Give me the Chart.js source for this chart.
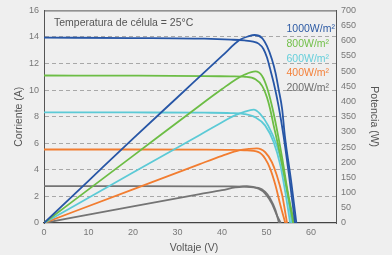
<!DOCTYPE html>
<html>
<head>
<meta charset="utf-8">
<script src="https://cdn.jsdelivr.net/npm/chart.js@4.4.1/dist/chart.umd.min.js"></script>
<style>
  html, body { margin: 0; padding: 0; background: #efefef; }
  #wrap { width: 392px; height: 255px; position: relative; }
</style>
</head>
<body>
<div id="wrap"><canvas id="chart"></canvas></div>
<script>
// legend text, one per irradiance level
const irradiance = ['1000W/m²', '800W/m²', '600W/m²', '400W/m²', '200W/m²'];

// I-V curves: voltage (V) -> current (A)
const ivVolts1000 = [0, 20, 36, 42, 45, 47, 48.2, 49.3, 50.1, 50.8, 51.6, 52.7, 53.8, 55, 56.4];
const ivAmps1000 = [13.95, 13.92, 13.87, 13.8, 13.74, 13.65, 13.5, 13.1, 12.45, 11.6, 10.55, 8.8, 6.6, 3.7, 0];
const ivVolts800 = [0, 20, 36, 42, 45.2, 47.5, 49, 50.1, 50.8, 51.6, 52.5, 53.5, 54.7, 56];
const ivAmps800 = [11.1, 11.09, 11.06, 11.03, 11.0, 10.82, 10.32, 9.44, 8.58, 7.33, 6.0, 4.4, 2.3, 0];
const ivVolts600 = [0, 20, 36, 42, 45, 47.5, 49.7, 51.6, 53.1, 54.2, 55.3];
const ivAmps600 = [8.33, 8.32, 8.3, 8.27, 8.2, 7.95, 7.33, 6.08, 4.34, 2.34, 0];
const ivVolts400 = [0, 20, 36, 42, 45, 48.2, 49.7, 50.8, 52, 53.1, 54.2];
const ivAmps400 = [5.53, 5.53, 5.52, 5.5, 5.47, 5.33, 4.84, 4.09, 2.84, 1.35, 0];
const ivVolts200 = [0, 20, 36, 42, 45, 48.2, 49.7, 50.8, 52, 52.8];
const ivAmps200 = [2.77, 2.77, 2.76, 2.75, 2.73, 2.64, 2.34, 1.85, 0.97, 0];

// P-V curves: voltage (V) -> power (W)
const pvVolts1000 = [0, 10, 20, 30, 40, 44, 46, 47.3, 49, 50.1, 51.2, 52, 52.7, 53.5, 54.1, 55.5, 56.7];
const pvWatts1000 = [0, 139, 278, 414, 550, 603, 615, 619, 609, 582, 539, 495, 441, 375, 288, 140, 0];
const pvVolts800 = [0, 20, 35, 40, 43, 45, 47.5, 49, 50.1, 51.2, 52.3, 53.5, 54.8, 56.2];
const pvWatts800 = [0, 221, 387, 441, 472, 488, 499, 484, 446, 386, 310, 215, 100, 0];
const pvVolts600 = [0, 20, 35, 40, 43, 45, 47.1, 48.5, 50.4, 52.3, 53.5, 54.6, 55.7];
const pvWatts600 = [0, 166, 290, 332, 355, 366, 373, 360, 320, 255, 190, 102, 0];
const pvVolts400 = [0, 20, 35, 40, 44, 46, 47.8, 49.7, 51.2, 52.3, 53.5, 54.6];
const pvWatts400 = [0, 111, 194, 221, 240, 244, 246, 233, 200, 157, 92, 0];
const pvVolts200 = [0, 20, 35, 40, 43, 45.6, 48.2, 49.7, 51.2, 52.3, 53.2];
const pvWatts200 = [0, 55, 95, 108, 117, 121, 113, 97, 64, 26, 0];

// tick labels
const voltTicks = [0, 10, 20, 30, 40, 50, 60];
const ampTicks = [0, 2, 4, 6, 8, 10, 12, 14, 16];
const wattTicks = [0, 50, 100, 150, 200, 250, 300, 350, 400, 450, 500, 550, 600, 650, 700];

const note = 'Temperatura de célula = 25°C';
const xTitle = 'Voltaje (V)';
const yTitle = 'Corriente (A)';
const y2Title = 'Potencia (W)';

// styles
const colors = ['#2756a6', '#6cbd45', '#5ccad6', '#f27d30', '#747474'];
const labelColors = ['#2c5aa4', '#72c04a', '#66cfdb', '#f4813a', '#6e6e6e'];
const FONT = '"Liberation Sans", Arial, sans-serif';

const pairs = (xs, ys) => xs.map((x, i) => ({ x, y: ys[i] }));

const ivSets = [
  [ivVolts1000, ivAmps1000], [ivVolts800, ivAmps800], [ivVolts600, ivAmps600],
  [ivVolts400, ivAmps400], [ivVolts200, ivAmps200],
];
const pvSets = [
  [pvVolts1000, pvWatts1000], [pvVolts800, pvWatts800], [pvVolts600, pvWatts600],
  [pvVolts400, pvWatts400], [pvVolts200, pvWatts200],
];

const lineStyle = (color) => ({
  borderColor: color,
  borderWidth: 1.8,
  pointRadius: 0,
  fill: false,
  cubicInterpolationMode: 'monotone',
});

const datasets = [];
irradiance.forEach((label, i) => {
  datasets.push({ label: label + ' I', data: pairs(...ivSets[i]), yAxisID: 'y', ...lineStyle(colors[i]) });
  datasets.push({ label: label + ' P', data: pairs(...pvSets[i]), yAxisID: 'y2', ...lineStyle(colors[i]) });
});

const fixedTicks = (values) => (scale) => {
  scale.ticks = values.map((v) => ({ value: v }));
};

// top frame line, note, legend labels and x title
const annotate = {
  id: 'annotate',
  afterDraw(chart) {
    const { ctx, chartArea: a } = chart;
    ctx.save();
    ctx.strokeStyle = '#555';
    ctx.lineWidth = 1;
    ctx.beginPath();
    ctx.moveTo(a.left, a.top + 0.5);
    ctx.lineTo(a.right, a.top + 0.5);
    ctx.stroke();

    ctx.textBaseline = 'middle';
    ctx.textAlign = 'left';
    ctx.font = '10.5px ' + FONT;
    ctx.fillStyle = '#555';
    ctx.fillText(note, 54, 23);

    irradiance.forEach((label, i) => {
      ctx.fillStyle = labelColors[i];
      ctx.fillText(label, 286.5, 29.5 + i * 14.6);
    });

    ctx.textAlign = 'center';
    ctx.fillStyle = '#555';
    ctx.fillText(xTitle, 194, 248.5);
    ctx.restore();
  },
};

const tickFont = { family: FONT, size: 9 };
const titleFont = { family: FONT, size: 10.5 };

new Chart(document.getElementById('chart'), {
  type: 'line',
  data: { datasets },
  options: {
    responsive: true,
    maintainAspectRatio: false,
    animation: false,
    layout: { padding: { top: 9, left: 0, right: 0, bottom: 0 } },
    plugins: { legend: { display: false }, tooltip: { enabled: false } },
    scales: {
      x: {
        type: 'linear',
        min: 0,
        max: 65.6,
        afterBuildTicks: fixedTicks(voltTicks),
        afterFit: (s) => { s.height = 32; },
        grid: { display: false, drawTicks: false },
        border: { display: true, color: '#444', width: 1.2 },
        ticks: { color: '#777', font: tickFont, padding: 4 },
      },
      y: {
        position: 'left',
        min: 0,
        max: 16,
        afterBuildTicks: fixedTicks(ampTicks),
        afterFit: (s) => { s.width = 44; },
        grid: {
          drawTicks: false,
          color: (ctx) => (ctx.tick && (ctx.tick.value === 0 || ctx.tick.value === 16) ? 'rgba(0,0,0,0)' : '#a8a8a8'),
          lineWidth: 1,
        },
        border: { display: true, color: '#555', width: 1, dash: [4, 3] },
        ticks: { color: '#777', font: tickFont, padding: 5 },
        title: { display: true, text: yTitle, color: '#555', font: titleFont, padding: { top: 13 } },
      },
      y2: {
        position: 'right',
        min: 0,
        max: 700,
        afterBuildTicks: fixedTicks(wattTicks),
        afterFit: (s) => { s.width = 56; },
        grid: { display: false, drawTicks: false },
        border: { display: true, color: '#555', width: 1 },
        ticks: { color: '#777', font: tickFont, padding: 5 },
        title: { display: true, text: y2Title, color: '#555', font: titleFont, padding: { top: 11.5 } },
      },
    },
  },
  plugins: [annotate],
});
</script>
</body>
</html>
